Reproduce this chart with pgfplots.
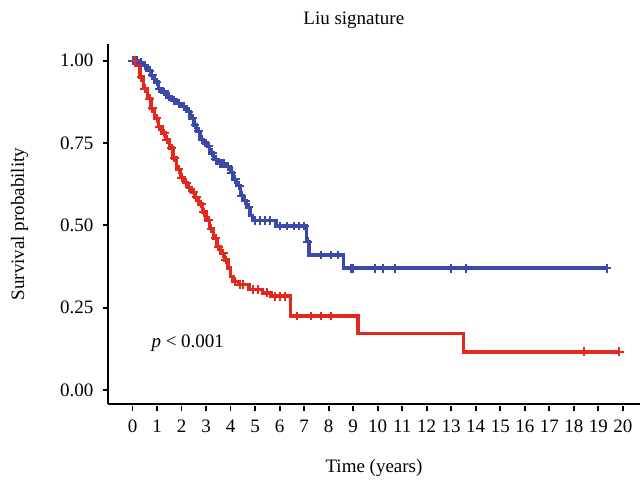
\documentclass[border=0pt]{standalone}
\usepackage{pgfplots}
\pgfplotsset{compat=1.18}
\usepackage{fontspec}
\setmainfont{Liberation Serif}
\definecolor{kmblue}{RGB}{59,73,168}
\definecolor{kmred}{RGB}{226,41,30}
\begin{document}
\fontsize{9.5}{11}\selectfont
\begin{tikzpicture}
\begin{axis}[
  name=ax,
  scale only axis,
  width=266pt, height=180pt,
  xmin=-1.0, xmax=20.7,
  ymin=-0.0425, ymax=1.0505,
  axis x line*=bottom, axis y line*=left,
  axis line style={line width=1pt},
  xtick={0,1,...,20},
  ytick={0,0.25,0.5,0.75,1},
  yticklabels={0.00,0.25,0.50,0.75,1.00},
  tick align=outside,
  major tick length=2.5pt,
  tick style={line width=0.9pt, black},
  xtick style={yshift=-1pt},
  /pgf/number format/assume math mode=true,
  ticklabel style={font=\fontsize{9.5}{11}\selectfont},
  xticklabel style={yshift=-2pt},
  yticklabel style={xshift=-1.5pt},
  title={Liu signature},
  title style={at={(axis description cs:0.462,1)}, anchor=center, yshift=6pt, font=\fontsize{9.5}{11}\selectfont},
  xlabel={Time (years)},
  xlabel style={at={(axis description cs:0.5,0)}, anchor=center, yshift=-32pt, font=\fontsize{9.5}{11}\selectfont},
  ylabel={Survival probability},
  ylabel style={at={(axis description cs:-0.166,0.5)}, anchor=center, font=\fontsize{9.5}{11}\selectfont},
  clip=false,
]
% blue curve
\addplot[const plot, kmblue, line width=1.7pt, mark=none] coordinates {
(0,1.0) (0.25,0.995) (0.45,0.985) (0.6,0.97) (0.75,0.955) (0.9,0.935) (1.05,0.915)
(1.2,0.905) (1.4,0.89) (1.6,0.88) (1.8,0.87) (2.0,0.86) (2.2,0.845) (2.35,0.825)
(2.5,0.805) (2.6,0.785) (2.75,0.76) (2.9,0.75) (3.05,0.74) (3.15,0.72) (3.3,0.70)
(3.45,0.688) (3.8,0.678) (4.0,0.66) (4.1,0.64) (4.25,0.62) (4.4,0.59) (4.5,0.575)
(4.65,0.555) (4.8,0.53) (4.9,0.515) (5.85,0.498) (7.1,0.45) (7.2,0.41) (8.6,0.37) (19.35,0.37)
};
\addplot[only marks, kmblue, mark=+, mark size=2.2pt, mark options={line width=1pt}] coordinates {
(0.0,1.0) (0.1,1.0) (0.2,1.0) (0.35,0.995) (0.5,0.985) (0.7,0.97) (0.8,0.955) (1.0,0.935)
(1.1,0.915) (1.3,0.905) (1.5,0.89) (1.7,0.88) (1.9,0.87) (2.1,0.86) (2.3,0.845)
(2.45,0.825) (2.55,0.805) (2.7,0.785) (2.85,0.76) (3.0,0.75) (3.1,0.74) (3.25,0.72)
(3.4,0.70) (3.55,0.688) (3.65,0.688) (3.75,0.688) (3.9,0.678) (4.05,0.66) (4.2,0.64)
(4.35,0.62) (4.45,0.59) (4.6,0.575) (4.75,0.555) (5.0,0.515) (5.2,0.515) (5.4,0.515)
(5.6,0.515) (6.0,0.498) (6.3,0.498) (6.6,0.498) (6.8,0.498) (7.0,0.498) (7.15,0.45)
(7.7,0.41) (8.1,0.41) (8.4,0.41) (8.9,0.37) (9.0,0.37) (9.9,0.37) (10.2,0.37)
(10.7,0.37) (13.0,0.37) (13.6,0.37) (19.35,0.37)
};
% red curve
\addplot[const plot, kmred, line width=1.7pt, mark=none] coordinates {
(0,1.0) (0.15,0.985) (0.3,0.95) (0.45,0.915) (0.6,0.885) (0.75,0.855) (0.9,0.825)
(1.05,0.80) (1.2,0.78) (1.35,0.76) (1.5,0.735) (1.65,0.705) (1.8,0.67) (1.95,0.645)
(2.1,0.63) (2.25,0.615) (2.4,0.60) (2.55,0.585) (2.7,0.565) (2.85,0.54) (3.0,0.515)
(3.15,0.49) (3.3,0.46) (3.45,0.435) (3.6,0.415) (3.75,0.395) (3.9,0.37) (4.0,0.345)
(4.1,0.33) (4.35,0.32) (4.75,0.305) (5.3,0.295) (5.65,0.285) (6.45,0.225) (9.2,0.172)
(13.5,0.116) (19.85,0.116)
};
\addplot[only marks, kmred, mark=+, mark size=2.2pt, mark options={line width=1pt}] coordinates {
(0.1,1.0) (0.35,0.95) (0.5,0.915) (0.7,0.885) (0.8,0.855) (1.0,0.825) (1.1,0.80)
(1.3,0.78) (1.4,0.76) (1.6,0.735) (1.7,0.705) (1.9,0.67) (2.0,0.645) (2.2,0.63)
(2.3,0.615) (2.5,0.60) (2.6,0.585) (2.8,0.565) (2.9,0.54) (3.1,0.515) (3.2,0.49)
(3.4,0.46) (3.5,0.435) (3.7,0.415) (3.8,0.395) (4.2,0.33) (4.4,0.32) (4.5,0.32)
(4.9,0.305) (5.1,0.305) (5.5,0.295) (5.8,0.285) (6.0,0.285) (6.2,0.285) (6.7,0.225)
(7.3,0.225) (7.7,0.225) (8.1,0.225) (18.4,0.116) (19.85,0.116)
};
\node[anchor=west] at (axis cs:0.5,0.143) {\textit{p} < 0.001};
\end{axis}
\pgfresetboundingbox
\path (ax.south west) ++(-54pt,-39.5pt) coordinate (bl);
\path (ax.north east) ++(0pt,22pt) coordinate (tr);
\useasboundingbox (bl) rectangle (tr);
\end{tikzpicture}
\end{document}
